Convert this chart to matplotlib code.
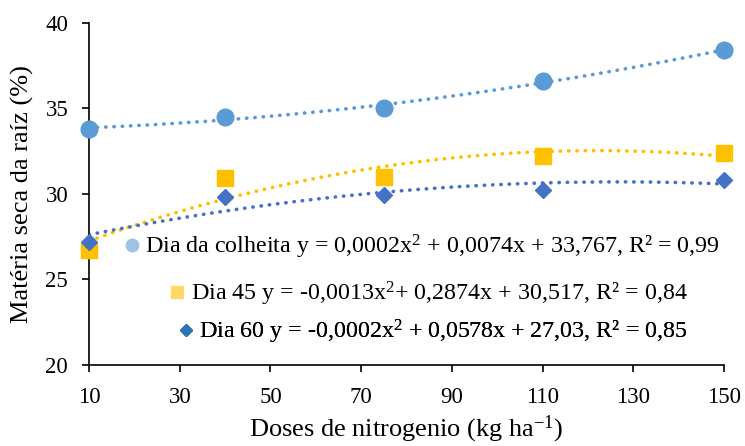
import numpy as np
import matplotlib.pyplot as plt
from matplotlib.lines import Line2D

plt.rcParams["font.family"] = ["Liberation Serif", "DejaVu Serif"]
plt.rcParams["mathtext.fontset"] = "custom"
plt.rcParams["mathtext.rm"] = "Liberation Serif"
plt.rcParams["mathtext.it"] = "Liberation Serif:italic"

doses = [10, 40, 75, 110, 150]
colheita = [33.8, 34.5, 35.0, 36.6, 38.4]
dia45 = [26.7, 30.9, 31.0, 32.2, 32.4]
dia60 = [27.2, 29.8, 29.9, 30.2, 30.8]

labels = [
    r"Dia da colheita y = 0,0002x$^{\mathrm{2}}$ + 0,0074x + 33,767, R² = 0,99",
    r"Dia 45 y = -0,0013x$^{\mathrm{2}}$+ 0,2874x + 30,517, R² = 0,84",
    r"Dia 60 y = -0,0002x$^{\mathrm{2}}$ + 0,0578x + 27,03, R² = 0,85",
]

series = [
    (colheita, "#5B9BD5", "o", 12, "#9DC3E6"),
    (dia45, "#FFC000", "s", 11.5, "#FFD966"),
    (dia60, "#4472C4", "D", 8.5, "#2E75B6"),
]

fig, ax = plt.subplots(figsize=(7.45, 4.46), dpi=100)
fig.subplots_adjust(left=0.1195, right=0.972, top=0.949, bottom=0.182)

xs = np.linspace(10, 150, 200)
for vals, col, mk, ms, _ in series:
    coef = np.polyfit(doses, vals, 2)
    ax.plot(xs, np.polyval(coef, xs), color=col, linestyle=(0, (0.1, 2.2)),
            linewidth=2.6, dash_capstyle="round", zorder=2)
    ax.plot(doses, vals, linestyle="none", marker=mk, markersize=ms,
            color=col, zorder=3, clip_on=False)

# staggered legend rows, one legend per series
anchors = [(0.037, 0.345), (0.109, 0.207), (0.122, 0.097)]
for (vals, col, mk, ms, lcol), lab, anc in zip(series, labels, anchors):
    h = Line2D([], [], linestyle="none", marker=mk, color=lcol,
               markersize=ms * 0.75)
    leg = ax.legend(handles=[h], labels=[lab], loc="center left",
                    bbox_to_anchor=anc, frameon=False, fontsize=17.3,
                    handlelength=0.6, handletextpad=0.25, borderpad=0)
    ax.add_artist(leg)

ax.set_xlim(10, 150)
ax.set_ylim(20, 40)
ax.set_xticks(np.arange(10, 151, 20))
ax.set_yticks(np.arange(20, 41, 5))
ax.tick_params(labelsize=16.5, direction="out", length=5, width=1.2, colors="black")
ax.tick_params(axis="x", pad=11)
ax.tick_params(axis="y", pad=10)
for s in ["top", "right"]:
    ax.spines[s].set_visible(False)
for s in ["left", "bottom"]:
    ax.spines[s].set_linewidth(1.2)

ax.set_xlabel(r"Doses de nitrogenio (kg ha$^{\mathrm{-1}}$)", fontsize=19, labelpad=4)
ax.set_ylabel("Matéria seca da raíz (%)", fontsize=19, labelpad=8)

fig.savefig("out.png", dpi=100)
